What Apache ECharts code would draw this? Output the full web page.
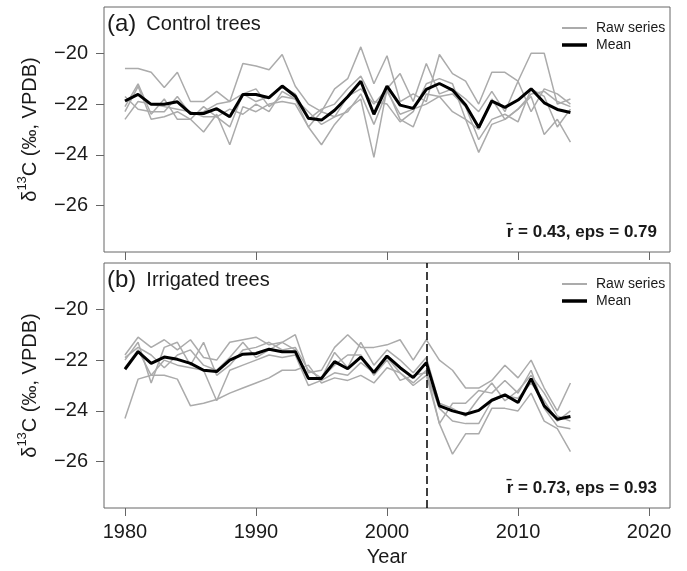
<!DOCTYPE html>
<html>
<head>
<meta charset="utf-8">
<script src="https://cdn.jsdelivr.net/npm/echarts@6/dist/echarts.min.js"></script>
<style>
html, body { margin: 0; padding: 0; background: #fff; }
#chart { width: 687px; height: 571px; }
</style>
</head>
<body>
<div id="chart"></div>
<script>
// years of the tree-ring series
const years = [1980, 1981, 1982, 1983, 1984, 1985, 1986, 1987, 1988, 1989,
  1990, 1991, 1992, 1993, 1994, 1995, 1996, 1997, 1998, 1999,
  2000, 2001, 2002, 2003, 2004, 2005, 2006, 2007, 2008, 2009,
  2010, 2011, 2012, 2013, 2014]
const xTicks = [1980, 1990, 2000, 2010, 2020]
const yTicks = [-26, -24, -22, -20]
const irrigationStart = 2003

// (a) control trees
const controlMean = [-21.88, -21.62, -22.01, -22.01, -21.91, -22.37, -22.37, -22.18, -22.5, -21.62,
  -21.62, -21.75, -21.29, -21.69, -22.56, -22.63, -22.24, -21.71, -21.1, -22.4,
  -21.29, -22.04, -22.17, -21.42, -21.19, -21.45, -22.04, -22.92, -21.88, -22.13,
  -21.84, -21.4, -21.95, -22.21, -22.33]
const controlRaw1 = [-20.6, -20.6, -20.75, -21.35, -20.75, -21.9, -21.9, -21.5, -21.9, -20.4,
  -20.5, -20.65, -20.05, -21.3, -22.0, -22.3, -21.4, -21.0, -19.75, -21.2,
  -20.1, -21.9, -21.6, -21.9, -20.05, -20.8, -21.1, -22.0, -20.75, -20.75,
  -21.1, -20.0, -20.0, -22.0, -21.8]
const controlRaw2 = [-22.3, -21.3, -22.6, -22.5, -22.3, -22.6, -23.1, -22.4, -23.6, -22.1,
  -22.3, -22.0, -21.9, -22.0, -22.9, -23.6, -22.8, -22.2, -21.8, -24.1,
  -21.4, -22.6, -22.9, -21.6, -21.7, -22.3, -22.6, -23.9, -22.8, -22.6,
  -22.2, -21.7, -23.2, -22.6, -23.5]
const controlRaw3 = [-22.6, -21.9, -22.0, -22.1, -22.2, -22.3, -22.5, -22.5, -22.2, -22.4,
  -22.0, -22.3, -21.5, -21.8, -22.3, -22.8, -22.5, -22.3, -21.6, -22.8,
  -21.5, -22.4, -22.2, -22.0, -21.7, -21.6, -22.1, -23.4, -22.6, -22.4,
  -22.7, -21.4, -21.7, -22.9, -22.2]
const controlRaw4 = [-21.7, -22.2, -22.3, -22.3, -21.7, -22.4, -22.3, -22.0, -21.9, -21.6,
  -21.9, -21.7, -21.3, -21.6, -22.6, -22.2, -22.0, -21.4, -20.9, -21.9,
  -22.0, -22.7, -22.3, -21.2, -21.0, -21.2, -22.6, -23.0, -21.8, -22.6,
  -22.2, -21.6, -21.5, -21.9, -22.1]
const controlRaw5 = [-22.1, -21.2, -22.4, -21.8, -22.6, -22.6, -22.1, -22.5, -22.9, -21.6,
  -21.4, -22.1, -21.7, -21.8, -22.9, -22.3, -22.5, -21.7, -21.4, -22.0,
  -21.4, -20.8, -21.9, -20.4, -21.6, -21.4, -21.8, -22.3, -21.5, -22.3,
  -21.1, -22.3, -21.4, -21.6, -22.0]

// (b) irrigated trees
const irrigMean = [-22.36, -21.67, -22.13, -21.88, -21.97, -22.13, -22.4, -22.45, -22.0, -21.77,
  -21.74, -21.57, -21.67, -21.67, -22.72, -22.72, -22.06, -22.34, -21.88, -22.49,
  -21.84, -22.3, -22.69, -22.1, -23.8, -24.0, -24.13, -23.98, -23.58, -23.37,
  -23.67, -22.73, -23.8, -24.33, -24.22]
const irrigRaw1 = [-24.3, -22.75, -22.6, -22.6, -22.75, -23.8, -23.7, -23.55, -23.3, -23.1,
  -22.9, -22.7, -22.4, -22.4, -22.2, -22.9, -22.7, -22.8, -22.6, -22.9,
  -22.3, -22.5, -22.9, -22.4, -24.5, -23.7, -23.7, -23.2, -23.3, -22.8,
  -23.3, -22.4, -23.9, -24.6, -24.7]
const irrigRaw2 = [-21.8, -21.1, -21.5, -21.2, -21.6, -21.2, -21.9, -22.0, -21.3, -21.2,
  -21.1, -21.4, -21.3, -21.0, -22.5, -22.4, -21.5, -21.0, -21.5, -21.5,
  -21.4, -21.2, -22.0, -21.2, -22.0, -22.4, -23.1, -23.1, -22.8, -22.2,
  -22.7, -22.0, -23.1, -24.0, -22.9]
const irrigRaw3 = [-22.0, -21.3, -22.9, -21.5, -21.3, -22.2, -21.3, -22.6, -22.2, -21.6,
  -21.5, -21.3, -21.6, -21.5, -22.4, -22.7, -21.7, -22.3, -21.3, -22.2,
  -21.6, -22.0, -22.5, -21.9, -23.7, -23.9, -24.2, -23.5, -22.9, -23.6,
  -23.2, -22.6, -23.3, -24.2, -24.4]
const irrigRaw4 = [-21.9, -21.5, -21.8, -22.3, -21.8, -21.6, -22.2, -22.4, -21.9, -21.3,
  -21.9, -21.6, -21.3, -21.6, -22.7, -22.7, -22.2, -21.8, -21.8, -22.6,
  -22.0, -22.8, -22.6, -22.5, -23.9, -24.4, -24.5, -24.5, -23.6, -23.4,
  -23.5, -22.9, -23.6, -24.4, -24.0]
const irrigRaw5 = [-22.3, -21.6, -22.6, -22.0, -22.2, -22.3, -22.4, -23.6, -22.4, -22.2,
  -22.0, -21.8, -21.9, -21.8, -23.0, -22.8, -22.5, -22.6, -22.1, -22.5,
  -21.9, -22.5, -23.0, -22.6, -24.5, -25.7, -24.9, -24.9, -23.9, -23.9,
  -24.0, -23.3, -24.4, -24.7, -25.6]

const FONT = '"Liberation Sans", Arial, sans-serif'
const TEXT = '#1a1a1a'
const FRAME = '#666'
const GREY = '#ababab'

const chart = echarts.init(document.getElementById('chart'))

function pairs(values) {
  return values.map((v, i) => [years[i], v])
}

function rawSeries(values, idx) {
  return {
    name: 'Raw series',
    type: 'line',
    xAxisIndex: idx,
    yAxisIndex: idx,
    data: pairs(values),
    symbol: 'none',
    color: GREY,
    lineStyle: { width: 1.5, color: GREY },
    z: 2
  }
}

function meanSeries(values, idx) {
  return {
    name: 'Mean',
    type: 'line',
    xAxisIndex: idx,
    yAxisIndex: idx,
    data: pairs(values),
    symbol: 'none',
    color: '#000',
    lineStyle: { width: 3, color: '#000' },
    z: 3
  }
}

function xAxis(idx, withLabels) {
  return {
    type: 'value',
    gridIndex: idx,
    min: 1978.4,
    max: 2021.6,
    axisLine: { show: false },
    splitLine: { show: false },
    axisTick: { show: true, length: 8, customValues: xTicks, lineStyle: { color: FRAME } },
    axisLabel: {
      show: withLabels, customValues: xTicks, margin: 14,
      fontSize: 20, fontFamily: FONT, color: TEXT,
      formatter: v => String(v)
    },
    name: withLabels ? 'Year' : '',
    nameLocation: 'middle',
    nameGap: 39,
    nameTextStyle: { fontSize: 20, fontFamily: FONT, color: TEXT }
  }
}

function yAxis(idx) {
  return {
    type: 'value',
    gridIndex: idx,
    min: -27.82,
    max: -18.18,
    axisLine: { show: false },
    splitLine: { show: false },
    axisTick: { show: true, length: 8, customValues: yTicks, lineStyle: { color: FRAME } },
    axisLabel: {
      customValues: yTicks, margin: 16,
      fontSize: 20, fontFamily: FONT, color: TEXT,
      formatter: v => String(v).replace('-', '\u2212')
    },
    name: '{a|δ}{s|13}{a|C (‰, VPDB)}',
    nameLocation: 'middle',
    nameRotate: 90,
    nameGap: 64,
    nameTextStyle: {
      rich: {
        a: { fontSize: 20, fontFamily: FONT, color: TEXT, lineHeight: 24, verticalAlign: 'bottom' },
        s: { fontSize: 13, fontFamily: FONT, color: TEXT, lineHeight: 24, verticalAlign: 'top', padding: [0, 0, 8, 0] }
      }
    }
  }
}

function legendItem(name, top, height) {
  return {
    data: [name],
    left: 557,
    top: top,
    orient: 'vertical',
    icon: 'rect',
    itemWidth: 25,
    itemHeight: height,
    selectedMode: false,
    textStyle: { fontSize: 14, fontFamily: FONT, color: TEXT, padding: [0, 0, 0, 4] }
  }
}

function panelLabel(letter, title, top) {
  return {
    type: 'text',
    left: 107,
    top: top,
    style: {
      text: '{p|(' + letter + ')}{t|' + title + '}',
      rich: {
        p: { fontSize: 24, fontFamily: FONT, fill: TEXT },
        t: { fontSize: 20, fontFamily: FONT, fill: TEXT, padding: [0, 0, 0, 10] }
      }
    }
  }
}

function statsLabel(text, top) {
  return {
    type: 'text',
    right: 30,
    top: top,
    style: { text: text, font: 'bold 17px ' + FONT, fill: TEXT }
  }
}

const irrigMeanSeries = meanSeries(irrigMean, 1)
irrigMeanSeries.markLine = {
  silent: true,
  symbol: 'none',
  label: { show: false },
  lineStyle: { color: '#000', width: 1.5, type: [8, 4] },
  data: [{ xAxis: irrigationStart }]
}

chart.setOption({
  animation: false,
  grid: [
    { left: 104, top: 7, width: 566, height: 245, show: true, borderColor: FRAME, borderWidth: 1 },
    { left: 104, top: 263, width: 566, height: 245, show: true, borderColor: FRAME, borderWidth: 1 }
  ],
  xAxis: [xAxis(0, false), xAxis(1, true)],
  yAxis: [yAxis(0), yAxis(1)],
  legend: [
    legendItem('Raw series', 16, 2),
    legendItem('Mean', 33, 3.5),
    legendItem('Raw series', 272, 2),
    legendItem('Mean', 289, 3.5)
  ],
  graphic: [
    panelLabel('a', 'Control trees', 12),
    panelLabel('b', 'Irrigated trees', 268),
    statsLabel('r\u0304 = 0.43, eps = 0.79', 224),
    statsLabel('r\u0304 = 0.73, eps = 0.93', 480)
  ],
  series: [
    rawSeries(controlRaw1, 0),
    rawSeries(controlRaw2, 0),
    rawSeries(controlRaw3, 0),
    rawSeries(controlRaw4, 0),
    rawSeries(controlRaw5, 0),
    meanSeries(controlMean, 0),
    rawSeries(irrigRaw1, 1),
    rawSeries(irrigRaw2, 1),
    rawSeries(irrigRaw3, 1),
    rawSeries(irrigRaw4, 1),
    rawSeries(irrigRaw5, 1),
    irrigMeanSeries
  ]
})
</script>
</body>
</html>
